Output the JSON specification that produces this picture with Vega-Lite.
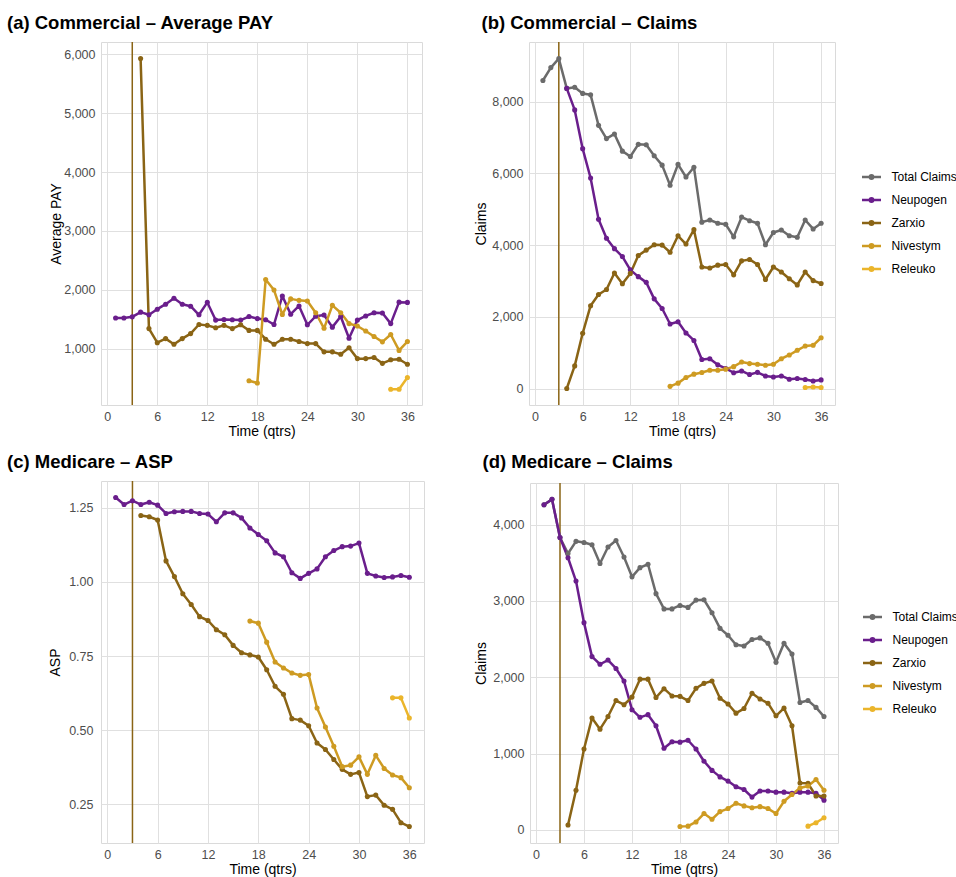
{
  "$schema": "https://vega.github.io/schema/vega-lite/v6.json",
  "background": "white",
  "padding": {"left": 6, "top": 13, "right": 0, "bottom": 0},
  "config": {
    "font": "Liberation Sans",
    "view": {"stroke": "#DADADA", "strokeWidth": 1},
    "axis": {
      "domain": false, "ticks": false, "tickSize": 0, "grid": true,
      "gridColor": "#E0E0E0", "gridWidth": 1,
      "labelFont": "Liberation Sans", "labelFontSize": 12.5, "labelColor": "#4D4D4D",
      "titleFont": "Liberation Sans", "titleFontSize": 14, "titleFontWeight": "normal", "titleColor": "#000000",
      "labelPadding": 6, "titlePadding": 3
    },
    "axisY": {"titlePadding": 0},
    "legend": {
      "orient": "none", "labelFont": "Liberation Sans", "labelFontSize": 12, "labelColor": "#000000",
      "symbolType": "M-1,0L1,0M-0.18,0A0.18,0.18 0 1,0 0.18,0A0.18,0.18 0 1,0 -0.18,0",
      "symbolSize": 361, "symbolStrokeWidth": 2.5, "labelOffset": 9, "rowPadding": 5, "padding": 0
    },
    "title": {"font": "Liberation Sans", "fontSize": 18.5, "fontWeight": "bold", "anchor": "start", "frame": "group", "color": "#000000", "baseline": "top"}
  },
  "datasets": {
    "launch": [{"qtr": 3}],
    "pay": [
      {"drug":"Neupogen","qtr":1,"val":1520},{"drug":"Neupogen","qtr":2,"val":1520},{"drug":"Neupogen","qtr":3,"val":1540},{"drug":"Neupogen","qtr":4,"val":1620},{"drug":"Neupogen","qtr":5,"val":1575},{"drug":"Neupogen","qtr":6,"val":1670},{"drug":"Neupogen","qtr":7,"val":1755},{"drug":"Neupogen","qtr":8,"val":1855},{"drug":"Neupogen","qtr":9,"val":1755},{"drug":"Neupogen","qtr":10,"val":1720},{"drug":"Neupogen","qtr":11,"val":1575},{"drug":"Neupogen","qtr":12,"val":1785},{"drug":"Neupogen","qtr":13,"val":1485},{"drug":"Neupogen","qtr":14,"val":1495},{"drug":"Neupogen","qtr":15,"val":1490},{"drug":"Neupogen","qtr":16,"val":1485},{"drug":"Neupogen","qtr":17,"val":1545},{"drug":"Neupogen","qtr":18,"val":1510},{"drug":"Neupogen","qtr":19,"val":1490},{"drug":"Neupogen","qtr":20,"val":1410},{"drug":"Neupogen","qtr":21,"val":1895},{"drug":"Neupogen","qtr":22,"val":1585},{"drug":"Neupogen","qtr":23,"val":1725},{"drug":"Neupogen","qtr":24,"val":1405},{"drug":"Neupogen","qtr":25,"val":1550},{"drug":"Neupogen","qtr":26,"val":1570},{"drug":"Neupogen","qtr":27,"val":1365},{"drug":"Neupogen","qtr":28,"val":1545},{"drug":"Neupogen","qtr":29,"val":1175},{"drug":"Neupogen","qtr":30,"val":1485},{"drug":"Neupogen","qtr":31,"val":1555},{"drug":"Neupogen","qtr":32,"val":1610},{"drug":"Neupogen","qtr":33,"val":1605},{"drug":"Neupogen","qtr":34,"val":1425},{"drug":"Neupogen","qtr":35,"val":1790},{"drug":"Neupogen","qtr":36,"val":1785},
      {"drug":"Zarxio","qtr":4,"val":5930},{"drug":"Zarxio","qtr":5,"val":1340},{"drug":"Zarxio","qtr":6,"val":1100},{"drug":"Zarxio","qtr":7,"val":1170},{"drug":"Zarxio","qtr":8,"val":1075},{"drug":"Zarxio","qtr":9,"val":1170},{"drug":"Zarxio","qtr":10,"val":1255},{"drug":"Zarxio","qtr":11,"val":1410},{"drug":"Zarxio","qtr":12,"val":1395},{"drug":"Zarxio","qtr":13,"val":1355},{"drug":"Zarxio","qtr":14,"val":1395},{"drug":"Zarxio","qtr":15,"val":1340},{"drug":"Zarxio","qtr":16,"val":1405},{"drug":"Zarxio","qtr":17,"val":1310},{"drug":"Zarxio","qtr":18,"val":1310},{"drug":"Zarxio","qtr":19,"val":1160},{"drug":"Zarxio","qtr":20,"val":1075},{"drug":"Zarxio","qtr":21,"val":1160},{"drug":"Zarxio","qtr":22,"val":1160},{"drug":"Zarxio","qtr":23,"val":1120},{"drug":"Zarxio","qtr":24,"val":1085},{"drug":"Zarxio","qtr":25,"val":1085},{"drug":"Zarxio","qtr":26,"val":945},{"drug":"Zarxio","qtr":27,"val":945},{"drug":"Zarxio","qtr":28,"val":905},{"drug":"Zarxio","qtr":29,"val":1015},{"drug":"Zarxio","qtr":30,"val":830},{"drug":"Zarxio","qtr":31,"val":830},{"drug":"Zarxio","qtr":32,"val":850},{"drug":"Zarxio","qtr":33,"val":750},{"drug":"Zarxio","qtr":34,"val":810},{"drug":"Zarxio","qtr":35,"val":820},{"drug":"Zarxio","qtr":36,"val":735},
      {"drug":"Nivestym","qtr":17,"val":455},{"drug":"Nivestym","qtr":18,"val":415},{"drug":"Nivestym","qtr":19,"val":2175},{"drug":"Nivestym","qtr":20,"val":1995},{"drug":"Nivestym","qtr":21,"val":1580},{"drug":"Nivestym","qtr":22,"val":1845},{"drug":"Nivestym","qtr":23,"val":1820},{"drug":"Nivestym","qtr":24,"val":1810},{"drug":"Nivestym","qtr":25,"val":1610},{"drug":"Nivestym","qtr":26,"val":1345},{"drug":"Nivestym","qtr":27,"val":1735},{"drug":"Nivestym","qtr":28,"val":1610},{"drug":"Nivestym","qtr":29,"val":1425},{"drug":"Nivestym","qtr":30,"val":1385},{"drug":"Nivestym","qtr":31,"val":1300},{"drug":"Nivestym","qtr":32,"val":1205},{"drug":"Nivestym","qtr":33,"val":1115},{"drug":"Nivestym","qtr":34,"val":1240},{"drug":"Nivestym","qtr":35,"val":970},{"drug":"Nivestym","qtr":36,"val":1120},
      {"drug":"Releuko","qtr":34,"val":310},{"drug":"Releuko","qtr":35,"val":310},{"drug":"Releuko","qtr":36,"val":510}
    ],
    "comClaims": [
      {"drug":"Total Claims","qtr":1,"val":8590},{"drug":"Total Claims","qtr":2,"val":8950},{"drug":"Total Claims","qtr":3,"val":9200},{"drug":"Total Claims","qtr":4,"val":8370},{"drug":"Total Claims","qtr":5,"val":8400},{"drug":"Total Claims","qtr":6,"val":8230},{"drug":"Total Claims","qtr":7,"val":8190},{"drug":"Total Claims","qtr":8,"val":7340},{"drug":"Total Claims","qtr":9,"val":6970},{"drug":"Total Claims","qtr":10,"val":7100},{"drug":"Total Claims","qtr":11,"val":6620},{"drug":"Total Claims","qtr":12,"val":6470},{"drug":"Total Claims","qtr":13,"val":6810},{"drug":"Total Claims","qtr":14,"val":6800},{"drug":"Total Claims","qtr":15,"val":6490},{"drug":"Total Claims","qtr":16,"val":6230},{"drug":"Total Claims","qtr":17,"val":5670},{"drug":"Total Claims","qtr":18,"val":6250},{"drug":"Total Claims","qtr":19,"val":5900},{"drug":"Total Claims","qtr":20,"val":6170},{"drug":"Total Claims","qtr":21,"val":4640},{"drug":"Total Claims","qtr":22,"val":4700},{"drug":"Total Claims","qtr":23,"val":4610},{"drug":"Total Claims","qtr":24,"val":4580},{"drug":"Total Claims","qtr":25,"val":4230},{"drug":"Total Claims","qtr":26,"val":4780},{"drug":"Total Claims","qtr":27,"val":4680},{"drug":"Total Claims","qtr":28,"val":4610},{"drug":"Total Claims","qtr":29,"val":4010},{"drug":"Total Claims","qtr":30,"val":4350},{"drug":"Total Claims","qtr":31,"val":4420},{"drug":"Total Claims","qtr":32,"val":4260},{"drug":"Total Claims","qtr":33,"val":4220},{"drug":"Total Claims","qtr":34,"val":4700},{"drug":"Total Claims","qtr":35,"val":4450},{"drug":"Total Claims","qtr":36,"val":4610},
      {"drug":"Neupogen","qtr":4,"val":8370},{"drug":"Neupogen","qtr":5,"val":7770},{"drug":"Neupogen","qtr":6,"val":6690},{"drug":"Neupogen","qtr":7,"val":5870},{"drug":"Neupogen","qtr":8,"val":4720},{"drug":"Neupogen","qtr":9,"val":4190},{"drug":"Neupogen","qtr":10,"val":3900},{"drug":"Neupogen","qtr":11,"val":3680},{"drug":"Neupogen","qtr":12,"val":3310},{"drug":"Neupogen","qtr":13,"val":3120},{"drug":"Neupogen","qtr":14,"val":2960},{"drug":"Neupogen","qtr":15,"val":2500},{"drug":"Neupogen","qtr":16,"val":2230},{"drug":"Neupogen","qtr":17,"val":1800},{"drug":"Neupogen","qtr":18,"val":1860},{"drug":"Neupogen","qtr":19,"val":1550},{"drug":"Neupogen","qtr":20,"val":1340},{"drug":"Neupogen","qtr":21,"val":810},{"drug":"Neupogen","qtr":22,"val":830},{"drug":"Neupogen","qtr":23,"val":660},{"drug":"Neupogen","qtr":24,"val":560},{"drug":"Neupogen","qtr":25,"val":440},{"drug":"Neupogen","qtr":26,"val":490},{"drug":"Neupogen","qtr":27,"val":390},{"drug":"Neupogen","qtr":28,"val":450},{"drug":"Neupogen","qtr":29,"val":350},{"drug":"Neupogen","qtr":30,"val":320},{"drug":"Neupogen","qtr":31,"val":350},{"drug":"Neupogen","qtr":32,"val":260},{"drug":"Neupogen","qtr":33,"val":280},{"drug":"Neupogen","qtr":34,"val":250},{"drug":"Neupogen","qtr":35,"val":210},{"drug":"Neupogen","qtr":36,"val":240},
      {"drug":"Zarxio","qtr":4,"val":0},{"drug":"Zarxio","qtr":5,"val":630},{"drug":"Zarxio","qtr":6,"val":1540},{"drug":"Zarxio","qtr":7,"val":2310},{"drug":"Zarxio","qtr":8,"val":2620},{"drug":"Zarxio","qtr":9,"val":2760},{"drug":"Zarxio","qtr":10,"val":3220},{"drug":"Zarxio","qtr":11,"val":2920},{"drug":"Zarxio","qtr":12,"val":3210},{"drug":"Zarxio","qtr":13,"val":3710},{"drug":"Zarxio","qtr":14,"val":3860},{"drug":"Zarxio","qtr":15,"val":4010},{"drug":"Zarxio","qtr":16,"val":4000},{"drug":"Zarxio","qtr":17,"val":3800},{"drug":"Zarxio","qtr":18,"val":4260},{"drug":"Zarxio","qtr":19,"val":4030},{"drug":"Zarxio","qtr":20,"val":4430},{"drug":"Zarxio","qtr":21,"val":3390},{"drug":"Zarxio","qtr":22,"val":3360},{"drug":"Zarxio","qtr":23,"val":3440},{"drug":"Zarxio","qtr":24,"val":3460},{"drug":"Zarxio","qtr":25,"val":3170},{"drug":"Zarxio","qtr":26,"val":3560},{"drug":"Zarxio","qtr":27,"val":3600},{"drug":"Zarxio","qtr":28,"val":3460},{"drug":"Zarxio","qtr":29,"val":3040},{"drug":"Zarxio","qtr":30,"val":3390},{"drug":"Zarxio","qtr":31,"val":3250},{"drug":"Zarxio","qtr":32,"val":3060},{"drug":"Zarxio","qtr":33,"val":2890},{"drug":"Zarxio","qtr":34,"val":3250},{"drug":"Zarxio","qtr":35,"val":3010},{"drug":"Zarxio","qtr":36,"val":2930},
      {"drug":"Nivestym","qtr":17,"val":60},{"drug":"Nivestym","qtr":18,"val":150},{"drug":"Nivestym","qtr":19,"val":305},{"drug":"Nivestym","qtr":20,"val":400},{"drug":"Nivestym","qtr":21,"val":445},{"drug":"Nivestym","qtr":22,"val":510},{"drug":"Nivestym","qtr":23,"val":510},{"drug":"Nivestym","qtr":24,"val":540},{"drug":"Nivestym","qtr":25,"val":610},{"drug":"Nivestym","qtr":26,"val":740},{"drug":"Nivestym","qtr":27,"val":695},{"drug":"Nivestym","qtr":28,"val":675},{"drug":"Nivestym","qtr":29,"val":650},{"drug":"Nivestym","qtr":30,"val":675},{"drug":"Nivestym","qtr":31,"val":830},{"drug":"Nivestym","qtr":32,"val":935},{"drug":"Nivestym","qtr":33,"val":1065},{"drug":"Nivestym","qtr":34,"val":1185},{"drug":"Nivestym","qtr":35,"val":1205},{"drug":"Nivestym","qtr":36,"val":1415},
      {"drug":"Releuko","qtr":34,"val":30},{"drug":"Releuko","qtr":35,"val":40},{"drug":"Releuko","qtr":36,"val":30}
    ],
    "asp": [
      {"drug":"Neupogen","qtr":1,"val":1.285},{"drug":"Neupogen","qtr":2,"val":1.261},{"drug":"Neupogen","qtr":3,"val":1.274},{"drug":"Neupogen","qtr":4,"val":1.261},{"drug":"Neupogen","qtr":5,"val":1.269},{"drug":"Neupogen","qtr":6,"val":1.259},{"drug":"Neupogen","qtr":7,"val":1.231},{"drug":"Neupogen","qtr":8,"val":1.237},{"drug":"Neupogen","qtr":9,"val":1.238},{"drug":"Neupogen","qtr":10,"val":1.238},{"drug":"Neupogen","qtr":11,"val":1.231},{"drug":"Neupogen","qtr":12,"val":1.229},{"drug":"Neupogen","qtr":13,"val":1.203},{"drug":"Neupogen","qtr":14,"val":1.233},{"drug":"Neupogen","qtr":15,"val":1.233},{"drug":"Neupogen","qtr":16,"val":1.216},{"drug":"Neupogen","qtr":17,"val":1.182},{"drug":"Neupogen","qtr":18,"val":1.16},{"drug":"Neupogen","qtr":19,"val":1.139},{"drug":"Neupogen","qtr":20,"val":1.098},{"drug":"Neupogen","qtr":21,"val":1.085},{"drug":"Neupogen","qtr":22,"val":1.031},{"drug":"Neupogen","qtr":23,"val":1.012},{"drug":"Neupogen","qtr":24,"val":1.029},{"drug":"Neupogen","qtr":25,"val":1.044},{"drug":"Neupogen","qtr":26,"val":1.085},{"drug":"Neupogen","qtr":27,"val":1.106},{"drug":"Neupogen","qtr":28,"val":1.119},{"drug":"Neupogen","qtr":29,"val":1.121},{"drug":"Neupogen","qtr":30,"val":1.131},{"drug":"Neupogen","qtr":31,"val":1.029},{"drug":"Neupogen","qtr":32,"val":1.02},{"drug":"Neupogen","qtr":33,"val":1.015},{"drug":"Neupogen","qtr":34,"val":1.017},{"drug":"Neupogen","qtr":35,"val":1.022},{"drug":"Neupogen","qtr":36,"val":1.016},
      {"drug":"Zarxio","qtr":4,"val":1.224},{"drug":"Zarxio","qtr":5,"val":1.22},{"drug":"Zarxio","qtr":6,"val":1.209},{"drug":"Zarxio","qtr":7,"val":1.071},{"drug":"Zarxio","qtr":8,"val":1.018},{"drug":"Zarxio","qtr":9,"val":0.96},{"drug":"Zarxio","qtr":10,"val":0.924},{"drug":"Zarxio","qtr":11,"val":0.883},{"drug":"Zarxio","qtr":12,"val":0.87},{"drug":"Zarxio","qtr":13,"val":0.839},{"drug":"Zarxio","qtr":14,"val":0.822},{"drug":"Zarxio","qtr":15,"val":0.786},{"drug":"Zarxio","qtr":16,"val":0.761},{"drug":"Zarxio","qtr":17,"val":0.754},{"drug":"Zarxio","qtr":18,"val":0.747},{"drug":"Zarxio","qtr":19,"val":0.704},{"drug":"Zarxio","qtr":20,"val":0.648},{"drug":"Zarxio","qtr":21,"val":0.621},{"drug":"Zarxio","qtr":22,"val":0.539},{"drug":"Zarxio","qtr":23,"val":0.534},{"drug":"Zarxio","qtr":24,"val":0.515},{"drug":"Zarxio","qtr":25,"val":0.457},{"drug":"Zarxio","qtr":26,"val":0.435},{"drug":"Zarxio","qtr":27,"val":0.401},{"drug":"Zarxio","qtr":28,"val":0.368},{"drug":"Zarxio","qtr":29,"val":0.351},{"drug":"Zarxio","qtr":30,"val":0.357},{"drug":"Zarxio","qtr":31,"val":0.276},{"drug":"Zarxio","qtr":32,"val":0.281},{"drug":"Zarxio","qtr":33,"val":0.247},{"drug":"Zarxio","qtr":34,"val":0.233},{"drug":"Zarxio","qtr":35,"val":0.188},{"drug":"Zarxio","qtr":36,"val":0.175},
      {"drug":"Nivestym","qtr":17,"val":0.868},{"drug":"Nivestym","qtr":18,"val":0.861},{"drug":"Nivestym","qtr":19,"val":0.797},{"drug":"Nivestym","qtr":20,"val":0.73},{"drug":"Nivestym","qtr":21,"val":0.71},{"drug":"Nivestym","qtr":22,"val":0.693},{"drug":"Nivestym","qtr":23,"val":0.685},{"drug":"Nivestym","qtr":24,"val":0.688},{"drug":"Nivestym","qtr":25,"val":0.575},{"drug":"Nivestym","qtr":26,"val":0.511},{"drug":"Nivestym","qtr":27,"val":0.446},{"drug":"Nivestym","qtr":28,"val":0.377},{"drug":"Nivestym","qtr":29,"val":0.382},{"drug":"Nivestym","qtr":30,"val":0.41},{"drug":"Nivestym","qtr":31,"val":0.351},{"drug":"Nivestym","qtr":32,"val":0.415},{"drug":"Nivestym","qtr":33,"val":0.371},{"drug":"Nivestym","qtr":34,"val":0.349},{"drug":"Nivestym","qtr":35,"val":0.34},{"drug":"Nivestym","qtr":36,"val":0.306},
      {"drug":"Releuko","qtr":34,"val":0.609},{"drug":"Releuko","qtr":35,"val":0.609},{"drug":"Releuko","qtr":36,"val":0.541}
    ],
    "medClaims": [
      {"drug":"Total Claims","qtr":1,"val":4260},{"drug":"Total Claims","qtr":2,"val":4330},{"drug":"Total Claims","qtr":3,"val":3830},{"drug":"Total Claims","qtr":4,"val":3620},{"drug":"Total Claims","qtr":5,"val":3780},{"drug":"Total Claims","qtr":6,"val":3765},{"drug":"Total Claims","qtr":7,"val":3735},{"drug":"Total Claims","qtr":8,"val":3490},{"drug":"Total Claims","qtr":9,"val":3705},{"drug":"Total Claims","qtr":10,"val":3790},{"drug":"Total Claims","qtr":11,"val":3575},{"drug":"Total Claims","qtr":12,"val":3315},{"drug":"Total Claims","qtr":13,"val":3435},{"drug":"Total Claims","qtr":14,"val":3480},{"drug":"Total Claims","qtr":15,"val":3095},{"drug":"Total Claims","qtr":16,"val":2895},{"drug":"Total Claims","qtr":17,"val":2895},{"drug":"Total Claims","qtr":18,"val":2940},{"drug":"Total Claims","qtr":19,"val":2915},{"drug":"Total Claims","qtr":20,"val":3010},{"drug":"Total Claims","qtr":21,"val":3015},{"drug":"Total Claims","qtr":22,"val":2845},{"drug":"Total Claims","qtr":23,"val":2640},{"drug":"Total Claims","qtr":24,"val":2550},{"drug":"Total Claims","qtr":25,"val":2425},{"drug":"Total Claims","qtr":26,"val":2410},{"drug":"Total Claims","qtr":27,"val":2495},{"drug":"Total Claims","qtr":28,"val":2515},{"drug":"Total Claims","qtr":29,"val":2445},{"drug":"Total Claims","qtr":30,"val":2195},{"drug":"Total Claims","qtr":31,"val":2445},{"drug":"Total Claims","qtr":32,"val":2305},{"drug":"Total Claims","qtr":33,"val":1670},{"drug":"Total Claims","qtr":34,"val":1695},{"drug":"Total Claims","qtr":35,"val":1605},{"drug":"Total Claims","qtr":36,"val":1485},
      {"drug":"Neupogen","qtr":1,"val":4260},{"drug":"Neupogen","qtr":2,"val":4330},{"drug":"Neupogen","qtr":3,"val":3830},{"drug":"Neupogen","qtr":4,"val":3565},{"drug":"Neupogen","qtr":5,"val":3260},{"drug":"Neupogen","qtr":6,"val":2715},{"drug":"Neupogen","qtr":7,"val":2270},{"drug":"Neupogen","qtr":8,"val":2170},{"drug":"Neupogen","qtr":9,"val":2225},{"drug":"Neupogen","qtr":10,"val":2115},{"drug":"Neupogen","qtr":11,"val":1950},{"drug":"Neupogen","qtr":12,"val":1575},{"drug":"Neupogen","qtr":13,"val":1475},{"drug":"Neupogen","qtr":14,"val":1510},{"drug":"Neupogen","qtr":15,"val":1365},{"drug":"Neupogen","qtr":16,"val":1070},{"drug":"Neupogen","qtr":17,"val":1155},{"drug":"Neupogen","qtr":18,"val":1150},{"drug":"Neupogen","qtr":19,"val":1175},{"drug":"Neupogen","qtr":20,"val":1060},{"drug":"Neupogen","qtr":21,"val":900},{"drug":"Neupogen","qtr":22,"val":780},{"drug":"Neupogen","qtr":23,"val":695},{"drug":"Neupogen","qtr":24,"val":640},{"drug":"Neupogen","qtr":25,"val":565},{"drug":"Neupogen","qtr":26,"val":530},{"drug":"Neupogen","qtr":27,"val":430},{"drug":"Neupogen","qtr":28,"val":510},{"drug":"Neupogen","qtr":29,"val":510},{"drug":"Neupogen","qtr":30,"val":495},{"drug":"Neupogen","qtr":31,"val":495},{"drug":"Neupogen","qtr":32,"val":480},{"drug":"Neupogen","qtr":33,"val":495},{"drug":"Neupogen","qtr":34,"val":495},{"drug":"Neupogen","qtr":35,"val":480},{"drug":"Neupogen","qtr":36,"val":390},
      {"drug":"Zarxio","qtr":4,"val":65},{"drug":"Zarxio","qtr":5,"val":520},{"drug":"Zarxio","qtr":6,"val":1060},{"drug":"Zarxio","qtr":7,"val":1465},{"drug":"Zarxio","qtr":8,"val":1320},{"drug":"Zarxio","qtr":9,"val":1485},{"drug":"Zarxio","qtr":10,"val":1695},{"drug":"Zarxio","qtr":11,"val":1640},{"drug":"Zarxio","qtr":12,"val":1740},{"drug":"Zarxio","qtr":13,"val":1975},{"drug":"Zarxio","qtr":14,"val":1975},{"drug":"Zarxio","qtr":15,"val":1735},{"drug":"Zarxio","qtr":16,"val":1850},{"drug":"Zarxio","qtr":17,"val":1755},{"drug":"Zarxio","qtr":18,"val":1750},{"drug":"Zarxio","qtr":19,"val":1695},{"drug":"Zarxio","qtr":20,"val":1855},{"drug":"Zarxio","qtr":21,"val":1920},{"drug":"Zarxio","qtr":22,"val":1950},{"drug":"Zarxio","qtr":23,"val":1725},{"drug":"Zarxio","qtr":24,"val":1650},{"drug":"Zarxio","qtr":25,"val":1530},{"drug":"Zarxio","qtr":26,"val":1590},{"drug":"Zarxio","qtr":27,"val":1790},{"drug":"Zarxio","qtr":28,"val":1715},{"drug":"Zarxio","qtr":29,"val":1660},{"drug":"Zarxio","qtr":30,"val":1495},{"drug":"Zarxio","qtr":31,"val":1595},{"drug":"Zarxio","qtr":32,"val":1365},{"drug":"Zarxio","qtr":33,"val":615},{"drug":"Zarxio","qtr":34,"val":610},{"drug":"Zarxio","qtr":35,"val":445},{"drug":"Zarxio","qtr":36,"val":445},
      {"drug":"Nivestym","qtr":18,"val":45},{"drug":"Nivestym","qtr":19,"val":50},{"drug":"Nivestym","qtr":20,"val":105},{"drug":"Nivestym","qtr":21,"val":215},{"drug":"Nivestym","qtr":22,"val":140},{"drug":"Nivestym","qtr":23,"val":240},{"drug":"Nivestym","qtr":24,"val":280},{"drug":"Nivestym","qtr":25,"val":350},{"drug":"Nivestym","qtr":26,"val":315},{"drug":"Nivestym","qtr":27,"val":290},{"drug":"Nivestym","qtr":28,"val":305},{"drug":"Nivestym","qtr":29,"val":280},{"drug":"Nivestym","qtr":30,"val":215},{"drug":"Nivestym","qtr":31,"val":375},{"drug":"Nivestym","qtr":32,"val":465},{"drug":"Nivestym","qtr":33,"val":550},{"drug":"Nivestym","qtr":34,"val":575},{"drug":"Nivestym","qtr":35,"val":660},{"drug":"Nivestym","qtr":36,"val":520},
      {"drug":"Releuko","qtr":34,"val":50},{"drug":"Releuko","qtr":35,"val":95},{"drug":"Releuko","qtr":36,"val":160}
    ]
  },
  "resolve": {"scale": {"color": "independent"}, "legend": {"color": "independent"}},
  "columns": 2,
  "align": "none",
  "spacing": {"row": 13, "column": 49},
  "concat": [
    {
      "width": 321, "height": 363,
      "title": {"text": "(a) Commercial – Average PAY", "dx": -94, "offset": 8.5},
      "encoding": {
        "x": {"field": "qtr", "type": "quantitative", "title": "Time (qtrs)",
              "scale": {"domain": [-0.75, 37.75], "nice": false, "zero": false},
              "axis": {"values": [0, 6, 12, 18, 24, 30, 36], "titlePadding": 2, "labelPadding": 5}}
      },
      "layer": [
        {"data": {"name": "launch"}, "mark": {"type": "rule", "color": "#8A6415", "strokeWidth": 1.5}},
        {
          "data": {"name": "pay"},
          "mark": {"type": "line", "strokeWidth": 2.5, "strokeJoin": "round", "point": {"filled": true, "size": 26}},
          "encoding": {
            "y": {"field": "val", "type": "quantitative", "title": "Average PAY",
                  "scale": {"domain": [42, 6210], "nice": false, "zero": false},
                  "axis": {"values": [1000, 2000, 3000, 4000, 5000, 6000], "format": ",.0f", "minExtent": 38, "maxExtent": 38}},
            "color": {"field": "drug", "type": "nominal", "legend": null,
                      "scale": {"domain": ["Total Claims", "Neupogen", "Zarxio", "Nivestym", "Releuko"], "range": ["#6B6B6B", "#6A1E8C", "#8A6415", "#CE9B22", "#EBB52B"]}}
          }
        }
      ]
    },
    {
      "width": 306, "height": 363,
      "title": {"text": "(b) Commercial – Claims", "dx": -47.5, "offset": 8.5},
      "encoding": {
        "x": {"field": "qtr", "type": "quantitative", "title": "Time (qtrs)",
              "scale": {"domain": [-0.75, 37.75], "nice": false, "zero": false},
              "axis": {"values": [0, 6, 12, 18, 24, 30, 36], "titlePadding": 2, "labelPadding": 5}}
      },
      "layer": [
        {"data": {"name": "launch"}, "mark": {"type": "rule", "color": "#8A6415", "strokeWidth": 1.5}},
        {
          "data": {"name": "comClaims"},
          "mark": {"type": "line", "strokeWidth": 2.5, "strokeJoin": "round", "point": {"filled": true, "size": 26}},
          "encoding": {
            "y": {"field": "val", "type": "quantitative", "title": "Claims",
                  "scale": {"domain": [-460, 9664], "nice": false, "zero": false},
                  "axis": {"values": [0, 2000, 4000, 6000, 8000], "format": ",.0f", "minExtent": 40.5, "maxExtent": 40.5}},
            "color": {"field": "drug", "type": "nominal",
                      "legend": {"title": null, "legendX": 331.5, "legendY": 124},
                      "scale": {"domain": ["Total Claims", "Neupogen", "Zarxio", "Nivestym", "Releuko"], "range": ["#6B6B6B", "#6A1E8C", "#8A6415", "#CE9B22", "#EBB52B"]}}
          }
        }
      ]
    },
    {
      "width": 323, "height": 362,
      "title": {"text": "(c) Medicare – ASP", "dx": -94, "offset": 8.5},
      "encoding": {
        "x": {"field": "qtr", "type": "quantitative", "title": "Time (qtrs)",
              "scale": {"domain": [-0.75, 37.75], "nice": false, "zero": false},
              "axis": {"values": [0, 6, 12, 18, 24, 30, 36], "titlePadding": 2, "labelPadding": 5}}
      },
      "layer": [
        {"data": {"name": "launch"}, "mark": {"type": "rule", "color": "#8A6415", "strokeWidth": 1.5}},
        {
          "data": {"name": "asp"},
          "mark": {"type": "line", "strokeWidth": 2.5, "strokeJoin": "round", "point": {"filled": true, "size": 26}},
          "encoding": {
            "y": {"field": "val", "type": "quantitative", "title": "ASP",
                  "scale": {"domain": [0.1195, 1.3405], "nice": false, "zero": false},
                  "axis": {"values": [0.25, 0.5, 0.75, 1.0, 1.25], "format": ".2f", "labelPadding": 8, "minExtent": 39, "maxExtent": 39}},
            "color": {"field": "drug", "type": "nominal", "legend": null,
                      "scale": {"domain": ["Total Claims", "Neupogen", "Zarxio", "Nivestym", "Releuko"], "range": ["#6B6B6B", "#6A1E8C", "#8A6415", "#CE9B22", "#EBB52B"]}}
          }
        }
      ]
    },
    {
      "width": 308, "height": 360,
      "title": {"text": "(d) Medicare – Claims", "dx": -47.5, "offset": 11},
      "encoding": {
        "x": {"field": "qtr", "type": "quantitative", "title": "Time (qtrs)",
              "scale": {"domain": [-0.75, 37.75], "nice": false, "zero": false},
              "axis": {"values": [0, 6, 12, 18, 24, 30, 36], "titlePadding": 2, "labelPadding": 5}}
      },
      "layer": [
        {"data": {"name": "launch"}, "mark": {"type": "rule", "color": "#8A6415", "strokeWidth": 1.5}},
        {
          "data": {"name": "medClaims"},
          "mark": {"type": "line", "strokeWidth": 2.5, "strokeJoin": "round", "point": {"filled": true, "size": 26}},
          "encoding": {
            "y": {"field": "val", "type": "quantitative", "title": "Claims",
                  "scale": {"domain": [-171, 4544], "nice": false, "zero": false},
                  "axis": {"values": [0, 1000, 2000, 3000, 4000], "format": ",.0f", "minExtent": 41.5, "maxExtent": 41.5}},
            "color": {"field": "drug", "type": "nominal",
                      "legend": {"title": null, "legendX": 331.5, "legendY": 123},
                      "scale": {"domain": ["Total Claims", "Neupogen", "Zarxio", "Nivestym", "Releuko"], "range": ["#6B6B6B", "#6A1E8C", "#8A6415", "#CE9B22", "#EBB52B"]}}
          }
        }
      ]
    }
  ]
}
